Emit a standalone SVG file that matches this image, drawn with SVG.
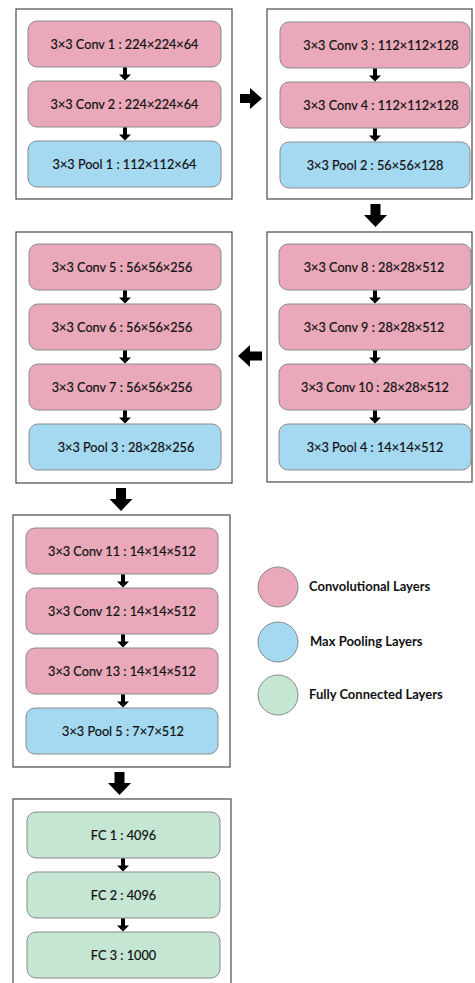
<svg xmlns="http://www.w3.org/2000/svg" width="475" height="983" viewBox="0 0 475 983">
  <style>
    .stage { fill: #ffffff; stroke: #4a4a4a; stroke-width: 1.2; }
    .node rect { stroke: #8a8a8a; stroke-width: 1; }
    .conv rect { fill: #e9a9ba; }
    .pool rect { fill: #a5d9f2; }
    .fc rect { fill: #c5e6d3; }
    .node text { font-family: Lato, "Liberation Sans", sans-serif; font-size: 12.7px; fill: #111; stroke: #111; stroke-width: 0.2; text-anchor: middle; }
    .arrow { fill: #000; }
    .legend circle { stroke: #8a8a8a; stroke-width: 1; }
    .legend text { font-family: Lato, "Liberation Sans", sans-serif; font-size: 13px; font-weight: bold; fill: #111; }
  </style>
  <defs>
    <!-- small down arrow between layers -->
    <polygon id="step" points="-2,0 2,0 2,7 6,7 0,13 -6,7 -2,7"/>
    <!-- large down arrow between stages -->
    <polygon id="bigdown" points="-5,0 5,0 5,11 11.5,11 0,23 -11.5,11 -5,11"/>
  </defs>

  <rect width="475" height="983" fill="#ffffff"/>

  <!-- stage frames -->
  <g id="stages">
    <rect id="stage1" class="stage" x="16" y="9" width="216" height="190"/>
    <rect id="stage2" class="stage" x="267" y="9" width="205" height="190"/>
    <rect id="stage3" class="stage" x="16" y="232" width="216" height="251"/>
    <rect id="stage4" class="stage" x="267" y="232" width="205" height="250"/>
    <rect id="stage5" class="stage" x="13" y="515" width="217" height="252"/>
    <rect id="stage6" class="stage" x="13" y="799" width="218" height="200"/>
  </g>

  <!-- block 1 -->
  <g id="conv1" class="node conv"><rect x="28" y="21" width="193" height="46" rx="9"/><text x="124.5" y="48.5">3×3 Conv 1 : 224×224×64</text></g>
  <g id="conv2" class="node conv"><rect x="28" y="81" width="193" height="46" rx="9"/><text x="124.5" y="108.5">3×3 Conv 2 : 224×224×64</text></g>
  <g id="pool1" class="node pool"><rect x="28" y="141" width="193" height="46" rx="9"/><text x="124.5" y="168.5">3×3 Pool 1 : 112×112×64</text></g>

  <!-- block 2 -->
  <g id="conv3" class="node conv"><rect x="280" y="22" width="190" height="46" rx="9"/><text x="381" y="49.5">3×3 Conv 3 : 112×112×128</text></g>
  <g id="conv4" class="node conv"><rect x="280" y="82" width="190" height="46" rx="9"/><text x="381" y="109.5">3×3 Conv 4 : 112×112×128</text></g>
  <g id="pool2" class="node pool"><rect x="280" y="142" width="190" height="46" rx="9"/><text x="375" y="169.5">3×3 Pool 2 : 56×56×128</text></g>

  <!-- block 3 -->
  <g id="conv5" class="node conv"><rect x="29" y="244" width="192" height="46" rx="9"/><text x="122" y="271.5">3×3 Conv 5 : 56×56×256</text></g>
  <g id="conv6" class="node conv"><rect x="29" y="304" width="192" height="46" rx="9"/><text x="122" y="331.5">3×3 Conv 6 : 56×56×256</text></g>
  <g id="conv7" class="node conv"><rect x="29" y="364" width="192" height="46" rx="9"/><text x="122" y="391.5">3×3 Conv 7 : 56×56×256</text></g>
  <g id="pool3" class="node pool"><rect x="29" y="424" width="192" height="46" rx="9"/><text x="126" y="451.5">3×3 Pool 3 : 28×28×256</text></g>

  <!-- block 4 -->
  <g id="conv8" class="node conv"><rect x="279" y="244" width="192" height="46" rx="9"/><text x="374" y="271.5">3×3 Conv 8 : 28×28×512</text></g>
  <g id="conv9" class="node conv"><rect x="279" y="304" width="192" height="46" rx="9"/><text x="374" y="331.5">3×3 Conv 9 : 28×28×512</text></g>
  <g id="conv10" class="node conv"><rect x="279" y="364" width="192" height="46" rx="9"/><text x="375" y="391.5">3×3 Conv 10 : 28×28×512</text></g>
  <g id="pool4" class="node pool"><rect x="279" y="424" width="192" height="46" rx="9"/><text x="375" y="451.5">3×3 Pool 4 : 14×14×512</text></g>

  <!-- block 5 -->
  <g id="conv11" class="node conv"><rect x="26" y="528" width="192" height="46" rx="9"/><text x="122" y="555.5">3×3 Conv 11 : 14×14×512</text></g>
  <g id="conv12" class="node conv"><rect x="26" y="588" width="192" height="46" rx="9"/><text x="122" y="615.5">3×3 Conv 12 : 14×14×512</text></g>
  <g id="conv13" class="node conv"><rect x="26" y="648" width="192" height="46" rx="9"/><text x="122" y="675.5">3×3 Conv 13 : 14×14×512</text></g>
  <g id="pool5" class="node pool"><rect x="26" y="708" width="192" height="46" rx="9"/><text x="123" y="735.5">3×3 Pool 5 : 7×7×512</text></g>

  <!-- classifier -->
  <g id="fc1" class="node fc"><rect x="27" y="812" width="193" height="46" rx="9"/><text x="123.5" y="839.5">FC 1 : 4096</text></g>
  <g id="fc2" class="node fc"><rect x="27" y="872" width="193" height="46" rx="9"/><text x="123.5" y="899.5">FC 2 : 4096</text></g>
  <g id="fc3" class="node fc"><rect x="27" y="932" width="193" height="46" rx="9"/><text x="123.5" y="959.5">FC 3 : 1000</text></g>

  <!-- connectors -->
  <g id="connectors" class="arrow">
    <use href="#step" x="125" y="67.5"/>
    <use href="#step" x="125" y="127.5"/>
    <use href="#step" x="375" y="68.5"/>
    <use href="#step" x="375" y="128.5"/>
    <use href="#step" x="125" y="290.5"/>
    <use href="#step" x="125" y="350.5"/>
    <use href="#step" x="125" y="410.5"/>
    <use href="#step" x="375" y="290.5"/>
    <use href="#step" x="375" y="350.5"/>
    <use href="#step" x="375" y="410.5"/>
    <use href="#step" x="123" y="574.5"/>
    <use href="#step" x="123" y="634.5"/>
    <use href="#step" x="123" y="694.5"/>
    <use href="#step" x="123" y="858.5"/>
    <use href="#step" x="123" y="918.5"/>
    <!-- stage transitions -->
    <polygon points="240,94 250,94 250,88 262,98.5 250,109 250,103 240,103"/>
    <use href="#bigdown" x="375.5" y="204"/>
    <polygon points="262,351.5 250,351.5 250,345 238,356 250,367 250,360.5 262,360.5"/>
    <use href="#bigdown" x="121" y="488"/>
    <use href="#bigdown" x="119.5" y="772"/>
  </g>

  <!-- legend -->
  <g id="legend" class="legend">
    <g id="legend-conv"><circle cx="278" cy="587" r="20" fill="#e9a9ba"/><text x="309" y="591">Convolutional Layers</text></g>
    <g id="legend-pool"><circle cx="278" cy="642" r="20" fill="#a5d9f2"/><text x="310" y="646">Max Pooling Layers</text></g>
    <g id="legend-fc"><circle cx="278" cy="695" r="20" fill="#c5e6d3"/><text x="309" y="699">Fully Connected Layers</text></g>
  </g>
</svg>
